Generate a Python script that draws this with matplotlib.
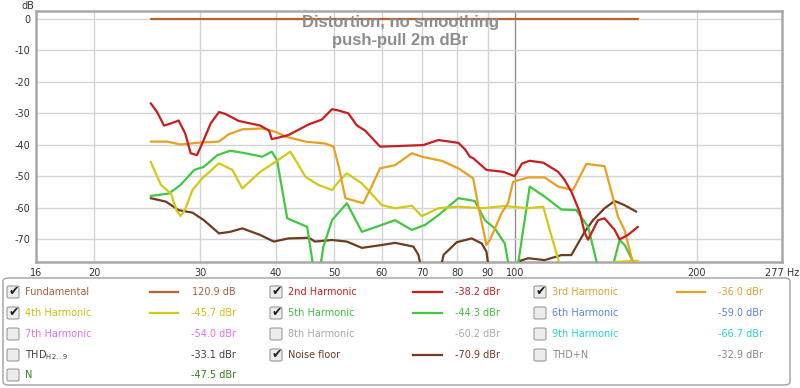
import matplotlib
matplotlib.use('Agg')
import matplotlib.pyplot as plt
from matplotlib.patches import FancyBboxPatch
from matplotlib.lines import Line2D

# 数据 (Hz, dB)
fund_f = [24.8, 159.7]
fund_db = [0.0, 0.0]

h2_f = [24.8, 25.4, 26.1, 26.8, 27.6, 28.3, 28.9, 29.6, 30.2, 31.2, 32.2, 33.0, 34.7, 37.7, 39.0, 39.4, 40.3,
        42.0, 45.4, 47.7, 49.6, 50.6, 52.8, 54.5, 56.3, 59.6, 64.0, 70.3, 74.5, 80.4, 82.5, 84.0, 85.1,
        89.5, 95.4, 99.7, 102.5, 105.6, 111.2, 117.7, 120.5, 123.8, 127.8, 130.3, 132.0, 134.5, 137.1,
        140.6, 146.0, 148.9, 153.7, 159.7]
h2_db = [-26.8, -29.5, -33.9, -33.2, -32.3, -36.4, -42.7, -43.3, -39.6, -33.2, -29.6, -30.2, -32.4, -33.9, -35.5, -38.2,
         -37.8, -36.9, -33.5, -32.0, -28.7, -29.0, -30.0, -33.8, -35.5, -40.6, -40.4, -40.1, -38.5, -39.4, -41.5,
         -43.8, -44.3, -48.0, -48.6, -50.0, -46.0, -45.1, -45.7, -48.6, -51.0, -54.9, -61.3, -68.0, -70.2, -67.1,
         -64.0, -63.4, -67.0, -70.1, -68.7, -66.1]

h3_f = [24.8, 26.4, 27.8, 30.0, 32.2, 33.4, 35.2, 38.0, 40.0, 41.5, 44.8, 48.3, 49.9, 50.9, 52.2,
        55.9, 57.7, 59.6, 63.1, 67.3, 69.9, 75.4, 80.4, 85.1, 86.8, 89.5, 90.7, 94.8, 97.2, 99.1,
        105.0, 111.8, 117.7, 124.6, 131.1, 140.6, 148.0, 151.7, 156.7, 159.7]
h3_db = [-39.0, -39.0, -39.9, -39.3, -39.0, -36.7, -35.1, -34.8, -35.9, -37.4, -39.0, -39.6, -40.6, -47.0, -57.0,
         -58.6, -53.3, -47.5, -46.5, -42.7, -43.8, -45.1, -47.5, -50.7, -59.7, -71.9, -70.3, -61.8, -58.6, -51.8,
         -50.4, -50.4, -53.3, -54.4, -46.1, -46.8, -62.9, -67.1, -77.6, -79.0]

h4_f = [24.8, 25.8, 26.8, 27.4, 27.8, 28.3, 29.1, 30.2, 32.2, 33.9, 35.2, 37.7, 40.0, 42.3, 43.5, 44.8,
        47.1, 49.6, 51.0, 52.5, 55.6, 60.0, 63.1, 67.3, 69.9, 74.5, 80.4, 87.9, 96.0, 105.0, 111.2,
        114.0, 119.2, 142.0, 146.0, 159.7]
h4_db = [-45.4, -52.8, -55.5, -61.0, -62.7, -60.5, -54.4, -50.7, -45.9, -48.0, -53.9, -48.6, -45.4, -42.2, -46.0, -50.2,
         -52.8, -54.4, -51.5, -49.1, -52.3, -59.2, -60.2, -59.4, -62.7, -60.2, -59.7, -60.2, -59.5, -60.2, -59.7,
         -67.1, -80.0, -80.0, -77.3, -76.9]

h5_f = [24.8, 26.6, 27.8, 29.3, 30.4, 32.0, 33.6, 35.6, 38.0, 39.4, 40.2, 41.8, 45.1, 46.8, 48.0,
        49.6, 52.5, 55.6, 60.0, 63.1, 67.3, 70.8, 74.5, 80.4, 85.6, 89.0, 92.4, 96.0, 99.1, 101.0,
        105.6, 111.8, 119.2, 126.2, 132.0, 137.5, 141.0, 144.5, 148.9, 152.0, 157.5, 159.7]
h5_db = [-56.3, -55.5, -52.8, -48.0, -47.0, -43.3, -41.9, -42.7, -43.8, -42.2, -44.9, -63.4, -66.1, -86.0, -72.4,
         -64.0, -58.6, -67.7, -65.5, -64.0, -67.1, -65.5, -62.4, -57.0, -57.9, -64.0, -66.6, -71.4, -86.0, -78.0,
         -53.3, -56.5, -60.6, -60.8, -66.1, -80.0, -90.0, -80.0, -70.3, -72.0, -78.0, -82.0]

nf_f = [24.8, 26.3, 27.6, 29.1, 30.4, 32.2, 33.6, 35.2, 37.7, 39.7, 42.0, 45.4, 46.5, 49.6, 52.5,
        55.6, 60.0, 63.1, 67.7, 69.0, 70.3, 74.5, 76.0, 79.9, 84.6, 87.9, 89.5, 90.7, 99.7, 101.5,
        105.0, 111.8, 119.2, 123.8, 130.3, 134.5, 140.6, 146.1, 151.7, 158.7]
nf_db = [-57.0, -58.1, -60.8, -61.6, -64.0, -68.2, -67.7, -66.6, -68.7, -70.8, -69.8, -69.6, -70.8, -70.3, -70.8,
         -72.8, -71.9, -71.2, -72.4, -75.0, -82.0, -82.0, -75.0, -71.0, -69.8, -71.4, -74.0, -82.0, -82.0, -77.0,
         -76.1, -76.7, -75.1, -75.1, -67.7, -64.0, -60.2, -57.9, -59.2, -61.3]

xticks = [16, 20, 30, 40, 50, 60, 70, 80, 90, 100, 200, 277]
xtick_labels = ['16', '20', '30', '40', '50', '60', '70', '80', '90', '100', '200', '277 Hz']
yticks = [0, -10, -20, -30, -40, -50, -60, -70]

# 图例内容: (勾选, 名称, 线颜色或None, 数值, 文字颜色)
legend_rows = [
    [(True, 'Fundamental', '#b8642e', '120.9 dB', '#a8603a'),
     (True, '2nd Harmonic', '#c81e1e', '-38.2 dBr', '#c81e1e'),
     (True, '3rd Harmonic', '#e8a020', '-36.0 dBr', '#e0a030')],
    [(True, '4th Harmonic', '#d2c818', '-45.7 dBr', '#c8c010'),
     (True, '5th Harmonic', '#40c840', '-44.3 dBr', '#40c040'),
     (False, '6th Harmonic', None, '-59.0 dBr', '#5a82e0')],
    [(False, '7th Harmonic', None, '-54.0 dBr', '#e070e8'),
     (False, '8th Harmonic', None, '-60.2 dBr', '#a8a8a8'),
     (False, '9th Harmonic', None, '-66.7 dBr', '#28d2d2')],
    [(False, r'THD$_\mathregular{H2..9}$', None, '-33.1 dBr', '#404040'),
     (True, 'Noise floor', '#6e3c1e', '-70.9 dBr', '#6e3c1e'),
     (False, 'THD+N', None, '-32.9 dBr', '#888888')],
    [(False, 'N', None, '-47.5 dBr', '#3c7a1a')],
]

W, H = 800, 388
fig = plt.figure(figsize=(8, 3.88), dpi=100)

def fx(px):
    return px / W

def fy(py):
    return 1 - py / H

ax = fig.add_axes([fx(36), fy(262), fx(782) - fx(36), fy(11) - fy(262)])
ax.set_xscale('log')
ax.set_xlim(16, 277)
ax.set_ylim(-77.3, 2.55)

for x in [20, 30, 40, 50, 60, 70, 80, 90, 200]:
    ax.axvline(x, color='#d4d4d4', lw=1.0, zorder=0)
ax.axvline(100, color='#909090', lw=1.0, zorder=0)
for y in yticks:
    ax.axhline(y, color='#d4d4d4', lw=1.0, zorder=0)

ax.set_xticks(xticks)
ax.set_xticklabels(xtick_labels)
ax.xaxis.set_minor_locator(matplotlib.ticker.NullLocator())
ax.set_yticks(yticks)
ax.set_yticklabels([str(v) for v in yticks])
ax.tick_params(length=0, labelsize=7, colors='#333333', pad=4)
for s in ax.spines.values():
    s.set_color('#a8a8a8')
    s.set_linewidth(1.8)

lw = 1.6
kw = dict(lw=lw, solid_joinstyle='round', solid_capstyle='round')
ax.plot(fund_f, fund_db, color='#b8642e', zorder=2, **kw)
ax.plot(nf_f, nf_db, color='#6e3c1e', zorder=3, **kw)
ax.plot(h5_f, h5_db, color='#40c840', zorder=3, **kw)
ax.plot(h4_f, h4_db, color='#d2c818', zorder=3, **kw)
ax.plot(h3_f, h3_db, color='#e8a020', zorder=3, **kw)
ax.plot(h2_f, h2_db, color='#c81e1e', zorder=4, **kw)

fig.text(fx(28), fy(6), 'dB', fontsize=7, color='#333333', ha='center', va='center')

fig.text(fx(400), fy(22), 'Distortion, no smoothing', fontsize=12, fontweight='bold',
         family='Liberation Sans', color='#8c8c8c', ha='center', va='center', zorder=10)
fig.text(fx(400), fy(41), 'push-pull 2m dBr', fontsize=12, fontweight='bold',
         family='Liberation Sans', color='#8c8c8c', ha='center', va='center', zorder=10)

# 图例框
box = FancyBboxPatch((fx(3), fy(385)), fx(790) - fx(3), fy(278) - fy(385),
                     boxstyle='round,pad=0,rounding_size=0.008', transform=fig.transFigure,
                     facecolor='white', edgecolor='#a0a0a0', lw=1.0)
fig.patches.append(box)

col_check = [7, 270, 534]
col_label = [25, 288, 552]
col_line = [(150, 178), (413, 442), (677, 705)]
col_value = [236, 500, 763]
row_y = [292, 313, 334, 355, 375]

for r, row in enumerate(legend_rows):
    y = row_y[r]
    for c, (checked, name, lcol, val, tcol) in enumerate(row):
        cb = FancyBboxPatch((fx(col_check[c]), fy(y + 6)), fx(12), 12 / H,
                            boxstyle='round,pad=0,rounding_size=0.003', transform=fig.transFigure,
                            facecolor='#ececec', edgecolor='#9a9a9a', lw=0.8)
        fig.patches.append(cb)
        if checked:
            fig.text(fx(col_check[c] + 6.5), fy(y - 0.5), '\u2714', fontsize=9, color='#222222',
                     ha='center', va='center')
        fig.text(fx(col_label[c]), fy(y), name, fontsize=7, color=tcol, ha='left', va='center')
        if lcol is not None:
            fig.lines.append(Line2D([fx(col_line[c][0]), fx(col_line[c][1])], [fy(y), fy(y)],
                                    transform=fig.transFigure, color=lcol, lw=1.6))
        fig.text(fx(col_value[c]), fy(y), val, fontsize=7, color=tcol, ha='right', va='center')

fig.savefig('out.png', dpi=100, facecolor='white')
